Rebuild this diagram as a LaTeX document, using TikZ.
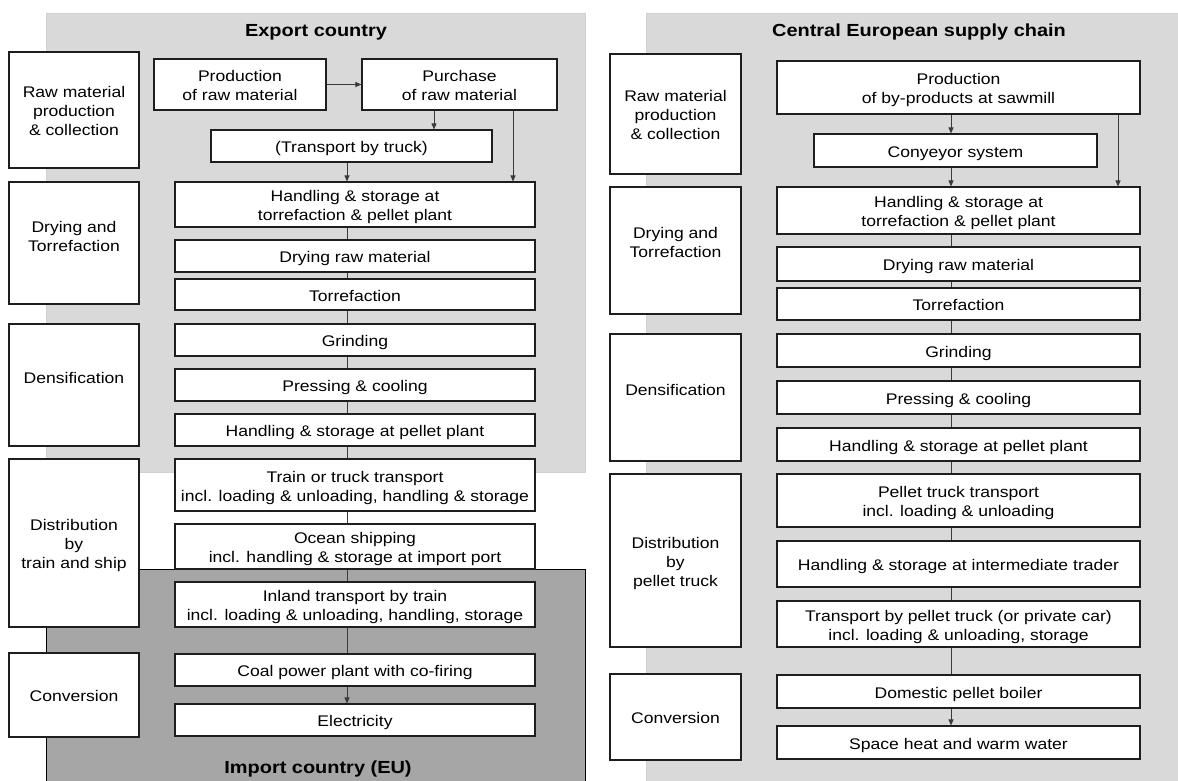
\documentclass[tikz,border=0pt]{standalone}
\usepackage{fontspec}
\setmainfont{Liberation Sans}[FakeStretch=1.14]
\usetikzlibrary{arrows.meta}
\definecolor{lightpanel}{HTML}{D9D9D9}
\definecolor{darkpanel}{HTML}{A6A6A6}
\definecolor{edgecol}{HTML}{1E1E1E}
\definecolor{conncol}{HTML}{3A3A3A}
\newcommand\boxtxt[1]{\raisebox{-2.8pt}[\height][\depth]{\begin{tabular}{@{}c@{}}#1\end{tabular}}}
\begin{document}
\begin{tikzpicture}[x=1pt,y=-1pt,
  box/.style={draw=edgecol,line width=1.1pt,fill=white,inner sep=0pt,align=center,font=\fontsize{15.4}{19}\selectfont},
  lbl/.style={inner sep=0pt,align=center,font=\fontsize{15.4}{19}\selectfont},
  ttl/.style={inner sep=0pt,font=\fontsize{17.5}{21}\selectfont\bfseries},
  link/.style={draw=conncol,line width=0.9pt},
  arr/.style={link,-{Triangle[length=6pt,width=5pt]}},
]
\useasboundingbox (0,0) rectangle (1178,780);

% panels
\path[fill=lightpanel,draw=black!18,line width=0.8pt] (46,13) rectangle (585,472);
\path[fill=lightpanel,draw=black!18,line width=0.8pt] (646,13) rectangle (1182,784);
\path[fill=darkpanel,draw=black,line width=0.9pt] (46,569) rectangle (585,784);

\node[ttl] (tExp) at (316,32) {Export country};
\node[ttl] (tImp) at (318,769) {Import country (EU)};
\node[ttl] (tCE) at (919,32) {Central European supply chain};

% axes for connectors
\coordinate (axL) at (347,0);
\coordinate (axR) at (951,0);

% ---------------- left panel ----------------
\node[box,minimum width=130pt,minimum height=116pt] (s1) at (74,110) {\boxtxt{Raw material\\production\\\& collection}};
\node[box,minimum width=130pt,minimum height=122pt] (s2) at (74,243) {};
\node[lbl] (s2t) at (74,236) {Drying and\\Torrefaction};
\node[box,minimum width=130pt,minimum height=122pt] (s3) at (74,385) {};
\node[lbl] (s3t) at (74,378) {Densification};
\node[box,minimum width=130pt,minimum height=168pt] (s4) at (74,543) {\boxtxt{Distribution\\by\\train and ship}};
\node[box,minimum width=130pt,minimum height=84pt] (s5) at (74,695) {\boxtxt{Conversion}};

% process boxes
\node[box,minimum width=172pt,minimum height=51pt] (prod) at (240,84.5) {\boxtxt{Production\\of raw material}};
\node[box,minimum width=195pt,minimum height=51pt] (pur) at (459.5,84.5) {\boxtxt{Purchase\\of raw material}};
\node[box,minimum width=281pt,minimum height=32pt] (trk) at (351.5,146) {\boxtxt{(Transport by truck)}};
\node[box,minimum width=360pt,minimum height=45pt] (hts) at (355,204.5) {\boxtxt{Handling \& storage at\\torrefaction \& pellet plant}};
\node[box,minimum width=360pt,minimum height=32pt] (dry) at (355,256) {\boxtxt{Drying raw material}};
\node[box,minimum width=360pt,minimum height=31pt] (tor) at (355,294.5) {\boxtxt{Torrefaction}};
\node[box,minimum width=360pt,minimum height=32pt] (gri) at (355,340) {\boxtxt{Grinding}};
\node[box,minimum width=360pt,minimum height=32pt] (pre) at (355,385) {\boxtxt{Pressing \& cooling}};
\node[box,minimum width=360pt,minimum height=32pt] (hpp) at (355,430) {\boxtxt{Handling \& storage at pellet plant}};
\node[box,minimum width=360pt,minimum height=52pt] (trn) at (355,485) {\boxtxt{Train or truck transport\\incl. loading \& unloading, handling \& storage}};
\node[box,minimum width=360pt,minimum height=45pt] (oce) at (355,546.5) {\boxtxt{Ocean shipping\\incl. handling \& storage at import port}};
\node[box,minimum width=360pt,minimum height=45pt] (inl) at (355,604.5) {\boxtxt{Inland transport by train\\incl. loading \& unloading, handling, storage}};
\node[box,minimum width=360pt,minimum height=32pt] (coa) at (355,670) {\boxtxt{Coal power plant with co-firing}};
\node[box,minimum width=360pt,minimum height=32pt] (ele) at (355,720) {\boxtxt{Electricity}};

\coordinate (axP1) at (434,0);
\coordinate (axP2) at (513,0);
\draw[arr] (prod.east) -- (pur.west);
\draw[arr] (pur.south -| axP1) -- (trk.north -| axP1);
\draw[arr] (pur.south -| axP2) -- (hts.north -| axP2);
\draw[arr] (trk.south -| axL) -- (hts.north -| axL);
\draw[link] (hts.south -| axL) -- (dry.north -| axL);
\draw[link] (dry.south -| axL) -- (tor.north -| axL);
\draw[link] (tor.south -| axL) -- (gri.north -| axL);
\draw[link] (gri.south -| axL) -- (pre.north -| axL);
\draw[link] (pre.south -| axL) -- (hpp.north -| axL);
\draw[link] (hpp.south -| axL) -- (trn.north -| axL);
\draw[link] (trn.south -| axL) -- (oce.north -| axL);
\draw[link] (oce.south -| axL) -- (inl.north -| axL);
\draw[link] (inl.south -| axL) -- (coa.north -| axL);
\draw[arr] (coa.south -| axL) -- (ele.north -| axL);

% ---------------- right panel ----------------
\node[box,minimum width=131pt,minimum height=120pt] (r1) at (675.5,114) {\boxtxt{Raw material\\production\\\& collection}};
\node[box,minimum width=131pt,minimum height=127pt] (r2) at (675.5,250.5) {};
\node[lbl] (r2t) at (675.5,242) {Drying and\\Torrefaction};
\node[box,minimum width=131pt,minimum height=127pt] (r3) at (675.5,397.5) {};
\node[lbl] (r3t) at (675.5,390) {Densification};
\node[box,minimum width=131pt,minimum height=173pt] (r4) at (675.5,560.5) {\boxtxt{Distribution\\by\\pellet truck}};
\node[box,minimum width=131pt,minimum height=86pt] (r5) at (675.5,717) {\boxtxt{Conversion}};

\node[box,minimum width=363pt,minimum height=53pt] (cprod) at (958.5,87.5) {\boxtxt{Production\\of by-products at sawmill}};
\node[box,minimum width=283pt,minimum height=33pt] (cconv) at (955.5,150.5) {\boxtxt{Conyeyor system}};
\node[box,minimum width=363pt,minimum height=47pt] (chts) at (958.5,210.5) {\boxtxt{Handling \& storage at\\torrefaction \& pellet plant}};
\node[box,minimum width=363pt,minimum height=34pt] (cdry) at (958.5,264) {\boxtxt{Drying raw material}};
\node[box,minimum width=363pt,minimum height=32pt] (ctor) at (958.5,304) {\boxtxt{Torrefaction}};
\node[box,minimum width=363pt,minimum height=33pt] (cgri) at (958.5,350.5) {\boxtxt{Grinding}};
\node[box,minimum width=363pt,minimum height=33pt] (cpre) at (958.5,397.5) {\boxtxt{Pressing \& cooling}};
\node[box,minimum width=363pt,minimum height=33pt] (chpp) at (958.5,444.5) {\boxtxt{Handling \& storage at pellet plant}};
\node[box,minimum width=363pt,minimum height=53pt] (cptt) at (958.5,500.5) {\boxtxt{Pellet truck transport\\incl. loading \& unloading}};
\node[box,minimum width=363pt,minimum height=46pt] (chit) at (958.5,564) {\boxtxt{Handling \& storage at intermediate trader}};
\node[box,minimum width=363pt,minimum height=46pt] (ctpt) at (958.5,624) {\boxtxt{Transport by pellet truck (or private car)\\incl. loading \& unloading, storage}};
\node[box,minimum width=363pt,minimum height=33pt] (cdpb) at (958.5,691.5) {\boxtxt{Domestic pellet boiler}};
\node[box,minimum width=363pt,minimum height=33pt] (cshw) at (958.5,742.5) {\boxtxt{Space heat and warm water}};

\coordinate (axR2) at (1118,0);
\draw[arr] (cprod.south -| axR) -- (cconv.north -| axR);
\draw[arr] (cconv.south -| axR) -- (chts.north -| axR);
\draw[arr] (cprod.south -| axR2) -- (chts.north -| axR2);
\draw[link] (chts.south -| axR) -- (cdry.north -| axR);
\draw[link] (cdry.south -| axR) -- (ctor.north -| axR);
\draw[link] (ctor.south -| axR) -- (cgri.north -| axR);
\draw[link] (cgri.south -| axR) -- (cpre.north -| axR);
\draw[link] (cpre.south -| axR) -- (chpp.north -| axR);
\draw[link] (chpp.south -| axR) -- (cptt.north -| axR);
\draw[link] (cptt.south -| axR) -- (chit.north -| axR);
\draw[link] (chit.south -| axR) -- (ctpt.north -| axR);
\draw[link] (ctpt.south -| axR) -- (cdpb.north -| axR);
\draw[arr] (cdpb.south -| axR) -- (cshw.north -| axR);
\end{tikzpicture}
\end{document}
